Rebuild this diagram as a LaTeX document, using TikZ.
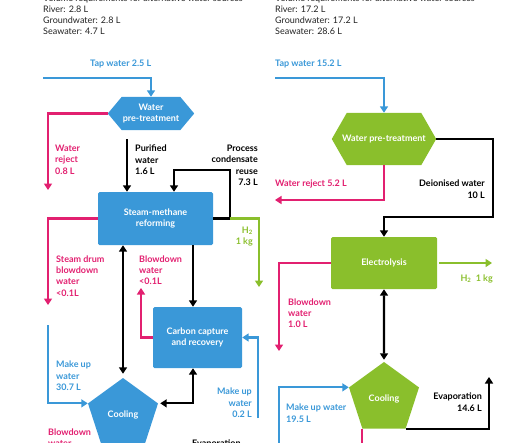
\documentclass[tikz,border=0pt]{standalone}
\usepackage{fontspec}
\setmainfont{Lato}
\usetikzlibrary{arrows.meta,shapes.geometric,backgrounds}
\definecolor{cblue}{RGB}{58,152,216}
\definecolor{cgreen}{RGB}{138,191,44}
\definecolor{cpink}{RGB}{226,32,112}
\definecolor{ctext}{RGB}{35,35,35}
\begin{document}
\begin{tikzpicture}[x=1pt,y=-1pt,
  flow/.style={line width=2.2pt,-{Triangle[width=8pt,length=6.5pt]}},
  both/.style={line width=2.2pt,{Triangle[width=8pt,length=6.5pt]}-{Triangle[width=8pt,length=6.5pt]}},
  plain/.style={line width=2.2pt},
  lbl/.style={font=\fontsize{9}{11.3}\selectfont\bfseries,inner sep=0pt},
  info/.style={font=\fontsize{9}{11}\selectfont,inner sep=0pt,text=ctext,align=left,anchor=north west},
  procbox/.style={rectangle,rounded corners=1.5pt,text=white,font=\fontsize{9}{11.3}\selectfont\bfseries,align=center,inner sep=0pt},
  cool/.style={regular polygon,regular polygon sides=5,minimum size=73.6pt,inner sep=0pt,text=white,font=\fontsize{9}{11.3}\selectfont\bfseries},
  hexa/.style={rectangle,inner sep=0pt,text=white,font=\fontsize{9}{11.3}\selectfont\bfseries,align=center},
]
\clip (0,0) rectangle (530,442);

% ---------- info texts ----------
\node[info] (infoL) at (43,-5.1) {Volume requirements for alternative water sources\\River: 2.8 L\\Groundwater: 2.8 L\\Seawater: 4.7 L};
\node[info] (infoR) at (275,-5.1) {Volume requirements for alternative water sources\\River: 17.2 L\\Groundwater: 17.2 L\\Seawater: 28.6 L};

% ---------- left panel shapes ----------
\node[hexa,minimum width=86pt,minimum height=33pt] (hexL) at (151,113.5) {Water\\pre-treatment};
\begin{scope}[on background layer]
  \fill[cblue] (hexL.west) -- ([xshift=14pt]hexL.north west) -- ([xshift=-14pt]hexL.north east) -- (hexL.east) -- ([xshift=-14pt]hexL.south east) -- ([xshift=14pt]hexL.south west) -- cycle;
\end{scope}
\node[procbox,fill=cblue,minimum width=115pt,minimum height=53pt] (smr) at (155.5,218.5) {Steam-methane\\reforming};
\node[procbox,fill=cblue,minimum width=89pt,minimum height=61pt] (ccr) at (197.5,337.5) {Carbon capture\\and recovery};
\node[cool,fill=cblue] (coolL) at (123,414.8) {Cooling};

% ---------- right panel shapes ----------
\node[hexa,minimum width=104pt,minimum height=52pt] (hexR) at (384,139) {Water pre-treatment};
\begin{scope}[on background layer]
  \fill[cgreen] (hexR.west) -- ([xshift=15pt]hexR.north west) -- ([xshift=-15pt]hexR.north east) -- (hexR.east) -- ([xshift=-15pt]hexR.south east) -- ([xshift=15pt]hexR.south west) -- cycle;
\end{scope}
\node[procbox,fill=cgreen,minimum width=106pt,minimum height=52pt] (elec) at (384,263) {Electrolysis};
\node[cool,fill=cgreen] (coolR) at (384,398.8) {Cooling};

% ---------- left connectors ----------
\coordinate (tapLs) at (43,78);
\draw[flow,cblue] (tapLs) -| (hexL.north);
\coordinate (rejL) at (48,190);
\draw[flow,cpink] (hexL.west) -| (rejL);
\coordinate (pwS) at (127,139);
\draw[flow] (pwS) -- (pwS |- smr.north);
\coordinate (pcC) at (230,170);
\draw[flow] (smr.east) -| (pcC) -| ([xshift=18.5pt]smr.north);
\coordinate (h2Le) at (259,287);
\draw[flow,cgreen] (smr.east -| pcC) -| (h2Le);
\coordinate (sdL) at (48,305);
\draw[flow,cpink] (smr.west) -| (sdL);
\draw[both,shorten >=4pt] (coolL.north |- smr.south) -- (coolL.north);
\coordinate (cc1) at ([xshift=-4.5pt]ccr.north);
\draw[flow] (cc1 |- smr.south) -- (cc1);
\draw[both,shorten <=2pt] (coolL.corner 5) -| (cc1 |- ccr.south);
\coordinate (bwL) at (141,288);
\draw[flow,cpink] (ccr.west) -| (bwL);
\coordinate (mu2) at (258,418);
\draw[flow,cblue] (mu2) |- (ccr.east);
\coordinate (mu1) at (48,325);
\draw[flow,cblue] (mu1) |- (coolL.corner 2);

% ---------- right connectors ----------
\coordinate (tapRs) at (275,78);
\draw[flow,cblue] (tapRs) -| (hexR.north);
\coordinate (diC) at (493,217);
\draw[flow] (hexR.east) -| (diC) -| (elec.north);
\coordinate (wrR) at (275,200);
\draw[flow,cpink] (hexR.south) |- (wrR);
\coordinate (h2Re) at (492,263);
\draw[flow,cgreen] ([xshift=2pt]elec.east) -- (h2Re);
\coordinate (bwR) at (279,351);
\draw[flow,cpink] (elec.west) -| (bwR);
\draw[both,shorten >=2pt] (elec.south) -- (coolR.north);
\coordinate (muR) at (279,450);
\draw[flow,cblue] (muR) |- (coolR.corner 2);
\coordinate (evR) at (489,377);
\draw[flow] (coolR.corner 4) -| (evR);
\draw[plain,cpink] (coolR.corner 3) -- (coolR.corner 3 |- muR);

% ---------- left labels ----------
\node[lbl,text=cblue,anchor=north west] (tapLt) at (90,59.4) {Tap water 2.5 L};
\node[lbl,text=cpink,anchor=north west,align=left] (rejLt) at (55,144.9) {Water\\reject\\0.8 L};
\node[lbl,anchor=north west,align=left] (pwt) at (135,144.9) {Purified\\water\\1.6 L};
\node[lbl,anchor=north east,align=right] (pct) at (258,144.9) {Process\\condensate\\reuse\\7.3 L};
\node[lbl,text=cgreen,anchor=north east,align=right] (h2Lt) at (253,226.4) {H\textsubscript{2}\\1 kg};
\node[lbl,text=cpink,anchor=north west,align=left] (sdt) at (56,255.4) {Steam drum\\blowdown\\water\\<0.1L};
\node[lbl,text=cpink,anchor=north west,align=left] (bwLt) at (139,255.4) {Blowdown\\water\\<0.1L};
\node[lbl,text=cblue,anchor=north west,align=left] (mu1t) at (56,361) {Make up\\water\\30.7 L};
\node[lbl,text=cblue,anchor=north east,align=right] (mu2t) at (252,388) {Make up\\water\\0.2 L};
\node[lbl,text=cpink,anchor=north west,align=left] (bwBt) at (48,428.4) {Blowdown\\water};
\node[lbl,anchor=north west] (evLt) at (192,439.4) {Evaporation};

% ---------- right labels ----------
\node[lbl,text=cblue,anchor=north west] (tapRt) at (275,59.4) {Tap water 15.2 L};
\node[lbl,text=cpink,anchor=north west] (wrRt) at (275,179.9) {Water reject 5.2 L};
\node[lbl,anchor=north east,align=right] (dit) at (485,179.9) {Deionised water\\10 L};
\node[lbl,text=cgreen,anchor=north east] (h2Rt) at (493,274.4) {H\textsubscript{2}\ \ 1 kg};
\node[lbl,text=cpink,anchor=north west,align=left] (bwRt) at (288,298.4) {Blowdown\\water\\1.0 L};
\node[lbl,text=cblue,anchor=north west,align=left] (muRt) at (286,403.9) {Make up water\\19.5 L};
\node[lbl,anchor=north east,align=right] (evRt) at (482,392.9) {Evaporation\\14.6 L};
\end{tikzpicture}
\end{document}
